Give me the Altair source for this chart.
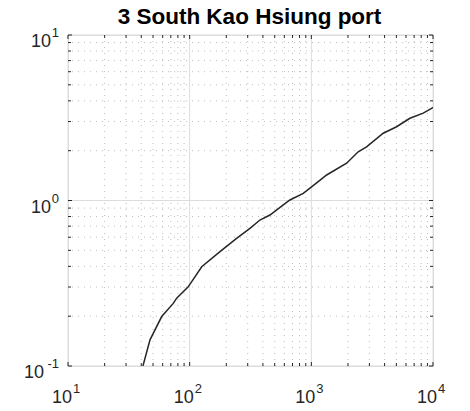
import altair as alt
import pandas as pd

# Curve: level versus return period on log-log axes
curve_x = [41.3, 47.2, 58.9, 73.3, 78.2, 97.3, 125.6, 177.5, 243, 313, 378, 457,
           588, 667, 858, 1004, 1139, 1336, 1950, 2429, 2845, 3898, 5023, 6457,
           8313, 9730, 10000]
curve_y = [0.100, 0.144, 0.199, 0.239, 0.257, 0.301, 0.398, 0.491, 0.591, 0.679,
           0.762, 0.817, 0.94, 1.007, 1.105, 1.21, 1.30, 1.426, 1.68, 1.97, 2.11,
           2.55, 2.79, 3.14, 3.37, 3.60, 3.65]

# Decade and sub-decade positions for grid lines and ticks
major_x = [10, 100, 1000, 10000]
minor_x = [20, 30, 40, 50, 60, 70, 80, 90,
           200, 300, 400, 500, 600, 700, 800, 900,
           2000, 3000, 4000, 5000, 6000, 7000, 8000, 9000]
major_y = [0.1, 1, 10]
minor_y = [0.2, 0.3, 0.4, 0.5, 0.6, 0.7, 0.8, 0.9,
           2, 3, 4, 5, 6, 7, 8, 9]

# Tick labels: base 10 with exponent
x_exp = ["1", "2", "3", "4"]
y_exp = ["-1", "0", "1"]

title_text = ["3 South Kao Hsiung port"]

W, H = 365, 331
FONT = "Liberation Sans"
INK = "#262626"

xs = alt.Scale(type="log", domain=[10, 10000], nice=False)
ys = alt.Scale(type="log", domain=[0.1, 10], nice=False)

curve = pd.DataFrame({"x": curve_x, "y": curve_y})
mx = pd.DataFrame({"v": major_x})
nx = pd.DataFrame({"v": minor_x})
my = pd.DataFrame({"v": major_y})
ny = pd.DataFrame({"v": minor_y})
xl = pd.DataFrame({"v": major_x, "e": x_exp})
yl = pd.DataFrame({"v": major_y, "e": y_exp})
tt = pd.DataFrame({"t": title_text})


def X(f="v"):
    return alt.X(f"{f}:Q", scale=xs, axis=None)


def Y(f="v"):
    return alt.Y(f"{f}:Q", scale=ys, axis=None)


layers = []

# grid
layers.append(alt.Chart(nx).mark_rule(color="#bdbdbd", strokeWidth=1, strokeDash=[1, 5]).encode(x=X()))
layers.append(alt.Chart(ny).mark_rule(color="#bdbdbd", strokeWidth=1, strokeDash=[1, 5]).encode(y=Y()))
layers.append(alt.Chart(mx).mark_rule(color="#dcdcdc", strokeWidth=1).encode(x=X()))
layers.append(alt.Chart(my).mark_rule(color="#dcdcdc", strokeWidth=1).encode(y=Y()))

# curve
layers.append(alt.Chart(curve).mark_line(color=INK, strokeWidth=1.5, clip=True).encode(
    x=X("x"), y=Y("y")))

# inward ticks on all four sides
for df, n in ((mx, 4), (nx, 3)):
    layers.append(alt.Chart(df).mark_rule(color=INK).encode(x=X(), y=alt.value(H), y2=alt.value(H - n)))
    layers.append(alt.Chart(df).mark_rule(color=INK).encode(x=X(), y=alt.value(0), y2=alt.value(n)))
for df, n in ((my, 4), (ny, 3)):
    layers.append(alt.Chart(df).mark_rule(color=INK).encode(y=Y(), x=alt.value(0), x2=alt.value(n)))
    layers.append(alt.Chart(df).mark_rule(color=INK).encode(y=Y(), x=alt.value(W), x2=alt.value(W - n)))

# x tick labels
layers.append(alt.Chart(xl).mark_text(align="right", baseline="alphabetic", font=FONT, fontSize=18,
                                      color=INK, dx=4).encode(
    x=X(), y=alt.value(H + 37), text=alt.value("10")))
layers.append(alt.Chart(xl).mark_text(align="left", baseline="alphabetic", font=FONT, fontSize=13,
                                      color=INK, dx=5).encode(
    x=X(), y=alt.value(H + 27), text="e:N"))

# y tick labels
layers.append(alt.Chart(yl).mark_text(align="right", baseline="alphabetic", font=FONT, fontSize=13,
                                      color=INK, dy=2).encode(
    x=alt.value(-9), y=Y(), text="e:N"))
layers.append(alt.Chart(yl).transform_filter("indexof(datum.e, '-') < 0").mark_text(
    align="right", baseline="alphabetic", font=FONT, fontSize=18, color=INK, dy=12).encode(
    x=alt.value(-17), y=Y(), text=alt.value("10")))
layers.append(alt.Chart(yl).transform_filter("indexof(datum.e, '-') >= 0").mark_text(
    align="right", baseline="alphabetic", font=FONT, fontSize=18, color=INK, dy=12).encode(
    x=alt.value(-24), y=Y(), text=alt.value("10")))

# title
layers.append(alt.Chart(tt).mark_text(align="center", baseline="alphabetic", font=FONT, fontSize=22.5,
                                      fontWeight="bold", color="#000000").encode(
    x=alt.value(W / 2 - 1), y=alt.value(-11), text="t:N"))

chart = alt.layer(*layers).properties(
    width=W,
    height=H,
    padding={"left": 68, "top": 35, "right": 37, "bottom": 45},
    autosize=alt.AutoSizeParams(type="none"),
).configure_view(stroke=INK, strokeWidth=1).configure(background="white")

chart.save("out.html", embed_options={"renderer": "svg", "actions": False})
